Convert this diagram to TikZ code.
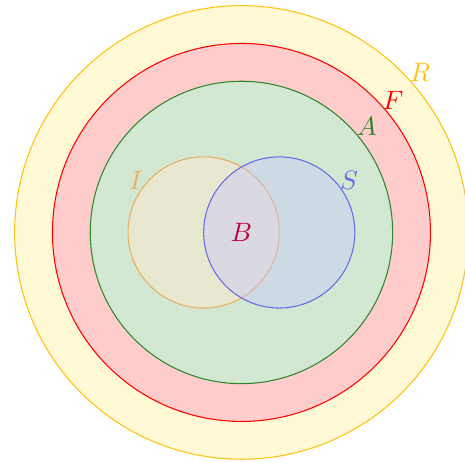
\documentclass[tikz,border=0pt]{standalone}
\usepackage{xcolor}
\usepackage{tikz}
\usetikzlibrary{
  positioning,
  backgrounds
}
\definecolor{SetYellow}{HTML}{FFF9D6}
\definecolor{SetRed}{HTML}{FFCCCC}
\definecolor{SetGreen}{HTML}{D2E8D2}
\definecolor{SetSand}{HTML}{E8E8D0}
\definecolor{SetBlue}{HTML}{C7C4FF}
\definecolor{DarkYellow}{HTML}{FFC20E}
\definecolor{DarkRed}{HTML}{FF0000}
\definecolor{DarkGreen}{HTML}{2F862F}
\definecolor{DarkSand}{HTML}{E8B060}
\definecolor{DarkBlue}{HTML}{6A6AE8}
\definecolor{DarkPurple}{HTML}{BF0040}
\tikzset{
  region/.style={
    draw,
    circle,
    inner sep=0pt
  },
  outer/.style={
    region,
    fill=SetYellow,
    draw=DarkYellow,
    minimum size=6cm
  },
  feasible/.style={
    region,
    fill=SetRed,
    draw=DarkRed,
    minimum size=5cm
  },
  admissible/.style={
    region,
    fill=SetGreen,
    draw=DarkGreen,
    minimum size=4cm
  },
  inner/.style={
    region,
    fill=SetSand,
    draw=DarkSand,
    minimum size=2cm
  },
  second/.style={
    region,
    fill=SetBlue,
    fill opacity=0.4,
    draw=DarkBlue,
    draw opacity=1,
    minimum size=2cm
  },
  setname/.style={
    inner sep=0pt,
    font=\normalsize
  }
}
\begin{document}
\begin{tikzpicture}

  \useasboundingbox
  (-3.194,-3.036) rectangle (2.957,3.075);

  \node[
    outer
  ] (setR) at (0,0) {};

  \node[
    feasible
  ] (setF) at (0,0) {};

  \node[
    admissible
  ] (setA) at (0,0) {};

  \node[
    inner
  ] (setI) at (-0.5,0) {};

  \node[
    second
  ] (setS) at (0.5,0) {};

  % names of the sets
  \node[
    setname,
    text=DarkYellow
  ] (labelR) at (2.361,2.123) {$R$};

  \node[
    setname,
    text=DarkRed
  ] (labelF) at (2.004,1.753) {$F$};

  \node[
    setname,
    text=DarkGreen
  ] (labelA) at (1.660,1.409) {$A$};

  \node[
    setname,
    text=DarkSand
  ] (labelI) at (-1.396,0.694) {$I$};

  \node[
    setname,
    text=DarkBlue
  ] (labelS) at (1.422,0.694) {$S$};

  \node[
    setname,
    text=DarkPurple
  ] (labelB) at (0,0) {$B$};

\end{tikzpicture}
\end{document}
